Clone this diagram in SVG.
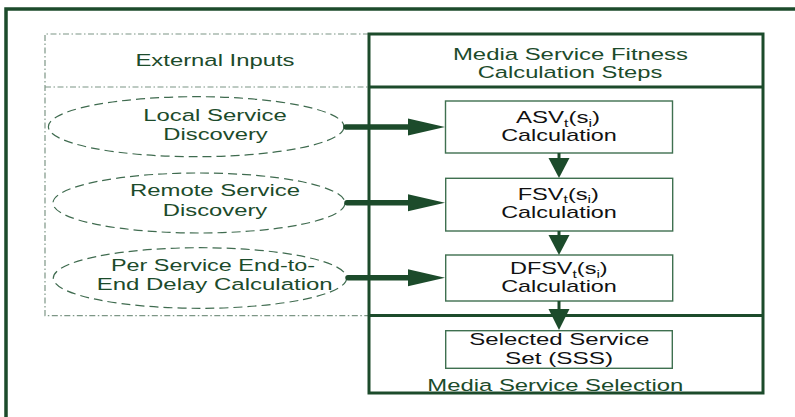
<svg xmlns="http://www.w3.org/2000/svg" width="795" height="417" viewBox="0 0 795 417">
<style>
.g{font-family:"Liberation Sans",Arial,sans-serif;font-size:17px;fill:#1c4b2b;text-anchor:middle}
.b{font-family:"Liberation Sans",Arial,sans-serif;font-size:16px;fill:#111;text-anchor:middle}
.frame{fill:none;stroke:#1c4b2b;stroke-width:3.5}
.panel{fill:none;stroke:#1c4b2b;stroke-width:3}
.dd{fill:none;stroke:#7d9686;stroke-width:1.2;stroke-dasharray:6 2.5 1.5 2.5}
.ell{fill:none;stroke:#3f6b4f;stroke-width:1.2;stroke-dasharray:9 5}
.box{fill:#fff;stroke:#3f7050;stroke-width:1.4}
.hl{stroke:#1c4b2b;stroke-width:5.5;stroke-linecap:round;fill:none}
.vl{stroke:#1c4b2b;stroke-width:3;fill:none}
.ah{fill:#1c4b2b}
</style>
<rect width="795" height="417" fill="#fff"/>
<path class="frame" d="M6,420 V9 H800"/>
<g id="external-inputs">
<path class="dd" d="M369,34 H45 V315.7 H369 M45,87 H369"/>
<text class="g" x="215" y="66" transform="matrix(1.45,0,0,1,-96.75,0)" textLength="109.7" lengthAdjust="spacingAndGlyphs">External Inputs</text>
</g>
<g id="fitness-steps">
<rect class="panel" x="369" y="34" width="394" height="359"/>
<path class="panel" d="M369,87 H763 M369,315.5 H763"/>
<text class="g" x="570.5" y="60" transform="matrix(1.45,0,0,1,-256.725,0)" textLength="162.1" lengthAdjust="spacingAndGlyphs">Media Service Fitness</text>
<text class="g" x="570" y="78.5" transform="matrix(1.45,0,0,1,-256.5,0)" textLength="127.3" lengthAdjust="spacingAndGlyphs">Calculation Steps</text>
<text class="g" x="555.3" y="390.7" transform="matrix(1.45,0,0,1,-249.885,0)" textLength="176.6" lengthAdjust="spacingAndGlyphs">Media Service Selection</text>
</g>
<g id="local">
<ellipse class="ell" cx="196.2" cy="126.7" rx="147.8" ry="30"/>
<text class="g" x="215" y="120.7" transform="matrix(1.45,0,0,1,-96.75,0)" textLength="98.9" lengthAdjust="spacingAndGlyphs">Local Service</text>
<text class="g" x="215.5" y="140" transform="matrix(1.45,0,0,1,-96.975,0)" textLength="72" lengthAdjust="spacingAndGlyphs">Discovery</text>
</g>
<g id="remote">
<ellipse class="ell" cx="199" cy="203" rx="146" ry="30"/>
<text class="g" x="215" y="196" transform="matrix(1.45,0,0,1,-96.75,0)" textLength="117.2" lengthAdjust="spacingAndGlyphs">Remote Service</text>
<text class="g" x="215" y="216" transform="matrix(1.45,0,0,1,-96.75,0)" textLength="72" lengthAdjust="spacingAndGlyphs">Discovery</text>
</g>
<g id="delay">
<ellipse class="ell" cx="200" cy="278" rx="146.7" ry="30.3"/>
<text class="g" x="213" y="270.7" transform="matrix(1.45,0,0,1,-95.85,0)" textLength="140.7" lengthAdjust="spacingAndGlyphs">Per Service End-to-</text>
<text class="g" x="214.7" y="290" transform="matrix(1.45,0,0,1,-96.615,0)" textLength="162.8" lengthAdjust="spacingAndGlyphs">End Delay Calculation</text>
</g>
<g id="asv">
<rect class="box" x="445.5" y="101" width="227" height="52"/>
<text class="b" x="558" y="123.3" transform="matrix(1.45,0,0,1,-251.1,0)" textLength="57.9" lengthAdjust="spacingAndGlyphs">ASV<tspan font-size="10.5" baseline-shift="-3">t</tspan>(s<tspan font-size="10.5" baseline-shift="-3">i</tspan>)</text>
<text class="b" x="559" y="140.7" transform="matrix(1.45,0,0,1,-251.55,0)" textLength="79.8" lengthAdjust="spacingAndGlyphs">Calculation</text>
</g>
<g id="fsv">
<rect class="box" x="445.7" y="178.3" width="227" height="52.7"/>
<text class="b" x="558.3" y="200" transform="matrix(1.45,0,0,1,-251.235,0)" textLength="56.1" lengthAdjust="spacingAndGlyphs">FSV<tspan font-size="10.5" baseline-shift="-3">t</tspan>(s<tspan font-size="10.5" baseline-shift="-3">i</tspan>)</text>
<text class="b" x="559" y="218.3" transform="matrix(1.45,0,0,1,-251.55,0)" textLength="79.8" lengthAdjust="spacingAndGlyphs">Calculation</text>
</g>
<g id="dfsv">
<rect class="box" x="445.7" y="255" width="227" height="46"/>
<text class="b" x="558.8" y="274.3" transform="matrix(1.45,0,0,1,-251.46,0)" textLength="67.4" lengthAdjust="spacingAndGlyphs">DFSV<tspan font-size="10.5" baseline-shift="-3">t</tspan>(s<tspan font-size="10.5" baseline-shift="-3">i</tspan>)</text>
<text class="b" x="559" y="292.3" transform="matrix(1.45,0,0,1,-251.55,0)" textLength="79.8" lengthAdjust="spacingAndGlyphs">Calculation</text>
</g>
<g id="sss">
<rect class="box" x="445.7" y="330.7" width="226.6" height="37.6"/>
<text class="b" x="559.3" y="345" transform="matrix(1.45,0,0,1,-251.685,0)" textLength="124.1" lengthAdjust="spacingAndGlyphs">Selected Service</text>
<text class="b" x="559" y="364" transform="matrix(1.45,0,0,1,-251.55,0)" textLength="74.5" lengthAdjust="spacingAndGlyphs">Set (SSS)</text>
</g>
<g id="connectors">
<path class="hl" d="M346,127 H410"/>
<path class="ah" d="M408,118.5 L445,127 L408,135.5 Z"/>
<path class="hl" d="M347,202.7 H410"/>
<path class="ah" d="M408,194.2 L445,202.7 L408,211.2 Z"/>
<path class="hl" d="M348,277.7 H410"/>
<path class="ah" d="M408,269.2 L445,277.7 L408,286.2 Z"/>
<path class="vl" d="M559,153 V160"/>
<path class="ah" d="M548.5,158 L569.5,158 L559,178 Z"/>
<path class="vl" d="M559,231 V237"/>
<path class="ah" d="M548.5,235 L569.5,235 L559,255 Z"/>
<path class="vl" d="M559,301 V311"/>
<path class="ah" d="M548.5,309 L569.5,309 L559,330 Z"/>
</g>
</svg>
